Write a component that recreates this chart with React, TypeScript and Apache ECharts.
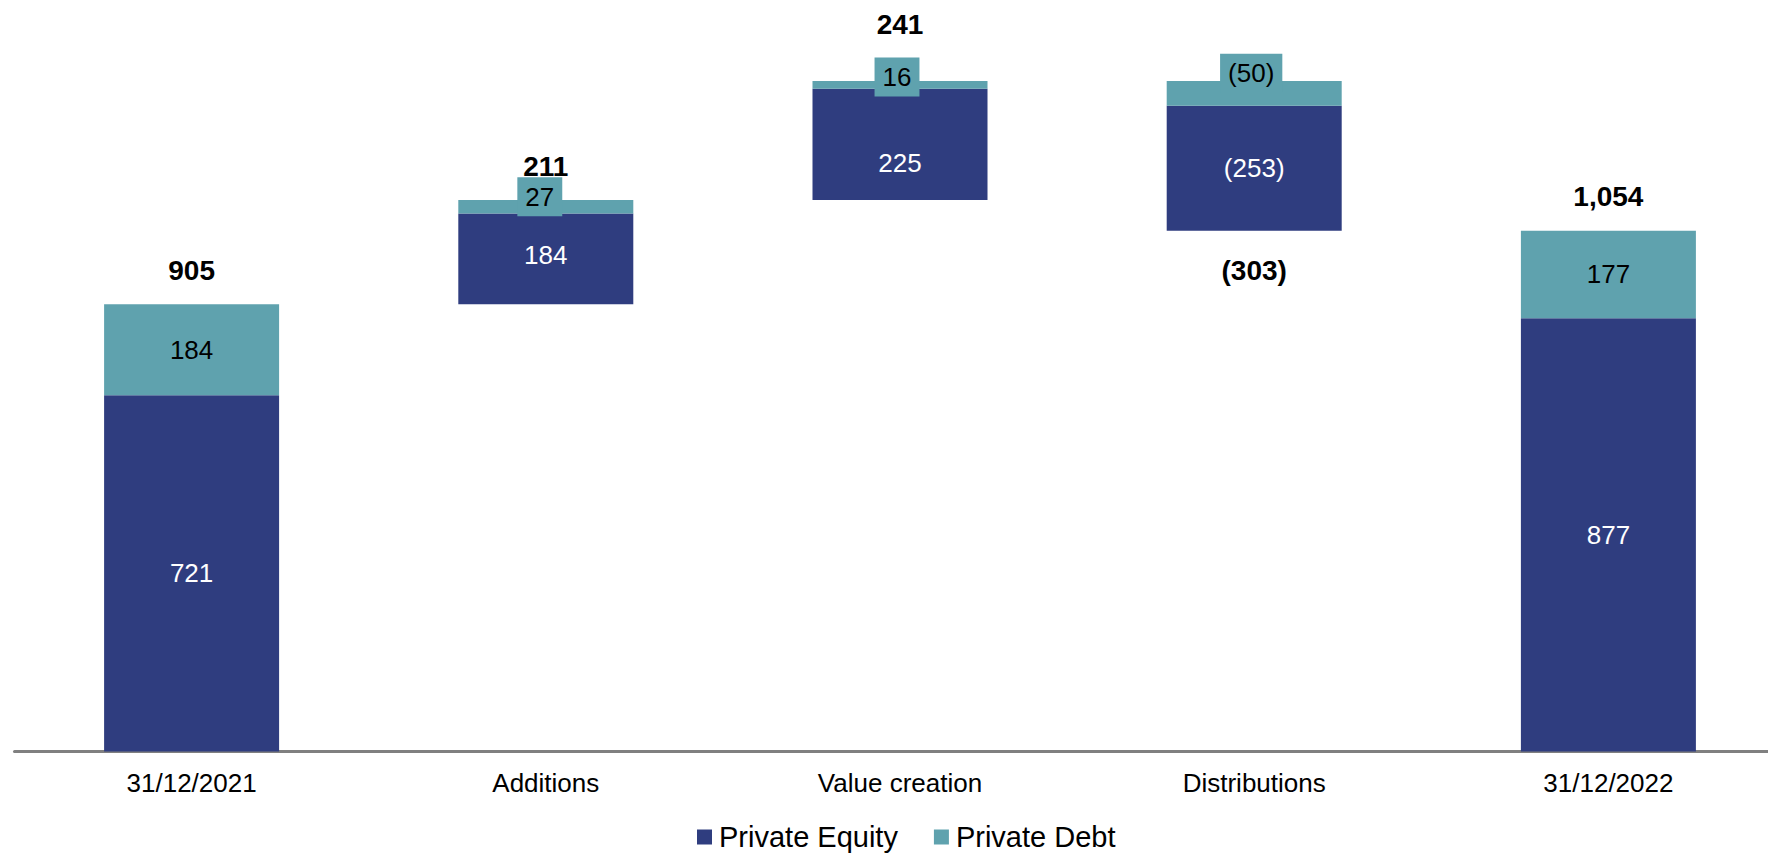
import React, { useEffect, useRef } from "react";
import * as echarts from "echarts";

const categories = ["31/12/2021", "Additions", "Value creation", "Distributions", "31/12/2022"];
const baseValues = [0, 905, 1116, 1054, 0];
const peValues = [721, 184, 225, 253, 877];
const pdValues = [184, 27, 16, 50, 177];
const peLabels = ["721", "184", "225", "(253)", "877"];
const pdLabels = ["184", "27", "16", "(50)", "177"];
const totalPositions = [905, 1116, 1357, 1054, 1054];
const totalLabels = ["905", "211", "241", "(303)", "1,054"];

const PE_COLOR = "#2f3d7f";
const PD_COLOR = "#5fa2ae";
const FONT = "'Liberation Sans', Arial, sans-serif";

export default function App() {
  const ref = useRef<HTMLDivElement>(null);
  useEffect(() => {
    if (!ref.current) return;
    const chart = echarts.init(ref.current, null, { renderer: "svg" });

    const peOffsets: Record<number, number[]> = { 1: [0, -4], 2: [0, 19] };
    const peData = peValues.map((v, i) => ({
      value: v,
      label: { formatter: peLabels[i], offset: peOffsets[i] || [0, 0] },
    }));

    const pdData = pdValues.map((v, i) => {
      const thin = i >= 1 && i <= 3;
      const offsets: Record<number, number[]> = { 1: [-6, -10], 2: [-3, -8], 3: [-3, -20] };
      return {
        value: v,
        label: thin
          ? {
              show: true,
              position: "inside",
              formatter: pdLabels[i],
              backgroundColor: PD_COLOR,
              padding: [6, 8],
              lineHeight: 27,
              offset: offsets[i],
            }
          : { show: true, position: "inside", formatter: pdLabels[i] },
      };
    });

    const totalData = totalPositions.map((v, i) => {
      let position = "top";
      let distance = 20;
      if (i === 2) distance = 42;
      if (i === 3) {
        position = "bottom";
        distance = 26;
      }
      return { value: v, label: { position, distance, formatter: totalLabels[i] } };
    });

    chart.setOption({
      animation: false,
      textStyle: { fontFamily: FONT },
      grid: {
        left: 14.5,
        width: 1771,
        top: 10.3,
        bottom: 104.5,
        containLabel: false,
        outerBoundsMode: "none",
      },
      legend: {
        data: ["Private Equity", "Private Debt"],
        left: 697,
        top: 822,
        padding: 0,
        icon: "rect",
        itemWidth: 15,
        itemHeight: 15,
        itemGap: 36,
        textStyle: {
          fontSize: 29,
          lineHeight: 30,
          color: "#000",
          fontFamily: FONT,
          padding: [0, 0, 0, 2],
        },
      },
      xAxis: {
        type: "category",
        data: categories,
        axisLine: { show: true, lineStyle: { color: "#808080", width: 3 } },
        axisTick: { show: false },
        axisLabel: { fontSize: 26, color: "#000", margin: 18, fontFamily: FONT },
        splitLine: { show: false },
      },
      yAxis: {
        type: "value",
        min: 0,
        max: 1500,
        show: false,
        splitLine: { show: false },
      },
      series: [
        {
          name: "base",
          type: "bar",
          stack: "w",
          data: baseValues,
          barWidth: 175,
          itemStyle: { color: "transparent" },
          silent: true,
        },
        {
          name: "Private Equity",
          type: "bar",
          stack: "w",
          data: peData,
          barWidth: 175,
          itemStyle: { color: PE_COLOR },
          label: {
            show: true,
            position: "inside",
            color: "#fff",
            fontSize: 26,
            fontFamily: FONT,
          },
        },
        {
          name: "Private Debt",
          type: "bar",
          stack: "w",
          data: pdData,
          barWidth: 175,
          itemStyle: { color: PD_COLOR },
          label: {
            show: true,
            position: "inside",
            color: "#000",
            fontSize: 26,
            fontFamily: FONT,
          },
        },
        {
          name: "totals",
          type: "scatter",
          data: totalData,
          symbolSize: 0,
          itemStyle: { color: "#000000", opacity: 1 },
          label: {
            show: true,
            color: "#000000",
            opacity: 1,
            textBorderWidth: 0,
            fontSize: 28,
            fontWeight: "bold",
            lineHeight: 28,
            fontFamily: FONT,
          },
          z: 10,
        },
      ],
    });
    return () => chart.dispose();
  }, []);
  return (
    <div
      ref={ref}
      style={{ position: "absolute", left: 0, top: 0, width: 1768, height: 856 }}
    />
  );
}
